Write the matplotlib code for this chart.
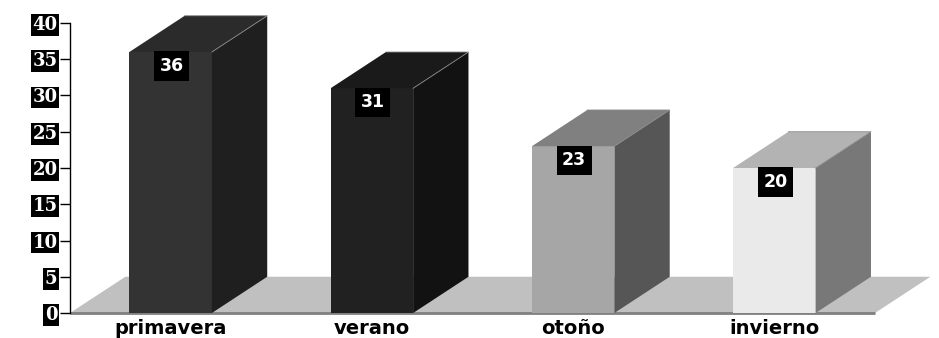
import matplotlib
matplotlib.use("Agg")
import matplotlib.pyplot as plt
from matplotlib.patches import Polygon

# Data
seasons = ["primavera", "verano", "otoño", "invierno"]
counts = [36, 31, 23, 20]
y_ticks = [0, 5, 10, 15, 20, 25, 30, 35, 40]

# Face shades for each bar (front, top, side)
front_colors = ["#333333", "#212121", "#a6a6a6", "#eaeaea"]
top_colors = ["#2b2b2b", "#1a1a1a", "#808080", "#b3b3b3"]
side_colors = ["#1f1f1f", "#121212", "#565656", "#787878"]
floor_color = "#c0c0c0"

# Oblique depth of the pseudo-3D extrusion, in data units
DX, DY = 0.275, 5.0
BAR_W = 0.41

fig = plt.figure(figsize=(9.39, 3.38), dpi=100)
ax = fig.add_axes([70 / 939, 25 / 338, 805 / 939, 290 / 338])
ax.set_xlim(-0.5, len(seasons) - 0.5)
ax.set_ylim(0, 40)

# Floor plane
x0, x1 = -0.5, len(seasons) - 0.5
ax.add_patch(Polygon([(x0, 0), (x1, 0), (x1 + DX, DY), (x0 + DX, DY)],
                     closed=True, fc=floor_color, ec="none",
                     zorder=1, clip_on=False))
ax.plot([x0, x1], [0, 0], color="#808080", lw=2, zorder=2,
        clip_on=False, solid_capstyle="butt")

# Bars: front faces
xs = list(range(len(seasons)))
ax.bar(xs, counts, width=BAR_W, color=front_colors, zorder=3, clip_on=False)

# Bars: side and top faces
for x, v, tc, sc in zip(xs, counts, top_colors, side_colors):
    l, r = x - BAR_W / 2, x + BAR_W / 2
    ax.add_patch(Polygon([(r, 0), (r + DX, DY), (r + DX, v + DY), (r, v)],
                         closed=True, fc=sc, ec="none", zorder=3, clip_on=False))
    ax.add_patch(Polygon([(l, v), (r, v), (r + DX, v + DY), (l + DX, v + DY)],
                         closed=True, fc=tc, ec="none", zorder=3, clip_on=False))
    ax.plot([l + DX, r + DX, r], [v + DY, v + DY, v], color="#8a8a8a",
            lw=0.6, zorder=3.5, clip_on=False)

# Value labels in black boxes just below each bar top
for x, v in zip(xs, counts):
    ax.annotate(str(v), xy=(x, v), xytext=(1, -14), textcoords="offset pixels",
                ha="center", va="center", color="white", fontsize=12.5,
                fontweight="bold", family="DejaVu Sans", zorder=6,
                bbox=dict(boxstyle="square,pad=0.32", fc="black", ec="none"),
                annotation_clip=False)

# Axes styling
for side in ("top", "right", "bottom"):
    ax.spines[side].set_visible(False)
ax.spines["left"].set_color("black")
ax.spines["left"].set_linewidth(1)
ax.spines["left"].set_zorder(5)
ax.patch.set_visible(False)

ax.set_yticks(y_ticks)
ax.set_yticklabels([str(t) for t in y_ticks], family="DejaVu Serif",
                   fontweight="bold", fontsize=13, color="white")
for lab in ax.get_yticklabels():
    lab.set_bbox(dict(boxstyle="square,pad=0.1", fc="black", ec="none"))
ax.tick_params(axis="y", direction="out", length=7, width=1, color="black", pad=2)

ax.set_xticks(xs)
ax.set_xticklabels(seasons, family="DejaVu Sans", fontweight="bold",
                   fontsize=14, color="black")
ax.tick_params(axis="x", length=0, pad=4)

fig.savefig("out.png", dpi=100)
